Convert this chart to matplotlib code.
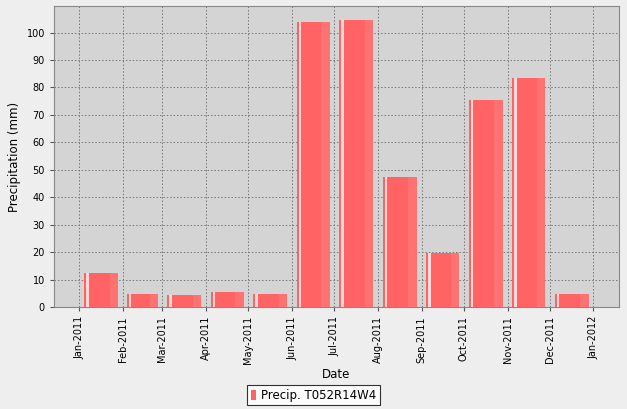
import datetime as dt
import matplotlib
matplotlib.use("Agg")
import matplotlib.pyplot as plt
import matplotlib.dates as mdates
from matplotlib.patches import Patch

#
# Données : précipitations mensuelles 2011
#
mois = [dt.date(2011, m, 1) for m in range(1, 13)]
precip = [12.4, 4.9, 4.3, 5.3, 4.7, 103.8, 104.5, 47.3, 19.5, 75.3, 83.4, 4.6]
serie = "Precip. T052R14W4"

fig = plt.figure(figsize=(6.27, 4.09), dpi=100, facecolor="#eeeeee")
ax = fig.add_axes([0.0861, 0.2494, 0.9009, 0.7359])
ax.set_facecolor("#d4d4d4")

# position et largeur de chaque barre (80 % du mois, centrée)
debuts = [mdates.date2num(d) for d in mois]
fins = [mdates.date2num(dt.date(2011 + (m // 12), m % 12 + 1, 1)) for m in range(1, 13)]
largeurs = [(f - d) * 0.78 for d, f in zip(debuts, fins)]
gauches = [d + (f - d) * 0.11 for d, f in zip(debuts, fins)]

ax.bar(gauches, precip, width=largeurs, align="edge", color="#ff6363",
       edgecolor="none", zorder=3)
# reflet blanc sur le côté gauche des barres
ax.bar([g + w * 0.06 for g, w in zip(gauches, largeurs)], precip,
       width=[w * 0.07 for w in largeurs], align="edge", color="#ffdada",
       edgecolor="none", zorder=4)
ax.bar([g + w * 0.75 for g, w in zip(gauches, largeurs)], precip,
       width=[w * 0.25 for w in largeurs], align="edge", color="#ff7272",
       edgecolor="none", zorder=4)

ax.set_xlim(mdates.date2num(dt.date(2010, 12, 14)), mdates.date2num(dt.date(2012, 1, 19)))
ax.set_ylim(0, 109.7)
ax.set_yticks(range(0, 101, 10))
ax.xaxis.set_major_locator(mdates.MonthLocator())
ax.xaxis.set_major_formatter(mdates.DateFormatter("%b-%Y"))
plt.setp(ax.get_xticklabels(), rotation=90)
ax.tick_params(labelsize=7, colors="#555555", length=3, labelcolor="black")

ax.grid(True, color="#777777", linestyle=(0, (1.5, 2)), linewidth=0.7, zorder=0)
ax.set_axisbelow(True)
for s in ax.spines.values():
    s.set_color("#888888")

ax.set_ylabel("Precipitation (mm)", fontsize=8.5)
ax.set_xlabel("Date", fontsize=8.5, labelpad=3)

leg = fig.legend(handles=[Patch(facecolor="#ff6363", edgecolor="none", label=serie)],
                 loc="lower center", bbox_to_anchor=(0.5, 0.0), fontsize=8.5,
                 frameon=True, fancybox=False, handlelength=0.5, handleheight=1.0,
                 handletextpad=0.4, borderpad=0.3, borderaxespad=0.3)
leg.get_frame().set_edgecolor("black")
leg.get_frame().set_facecolor("white")
leg.get_frame().set_linewidth(0.8)

fig.savefig("out.png", dpi=100, facecolor=fig.get_facecolor())
